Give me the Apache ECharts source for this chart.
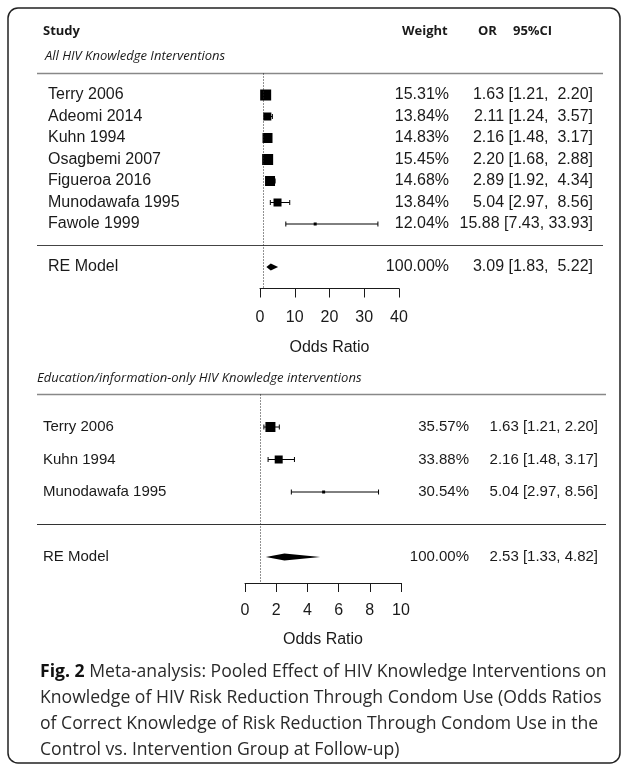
<!DOCTYPE html>
<html>
<head>
<meta charset="utf-8">
<script src="https://cdn.jsdelivr.net/npm/echarts@6/dist/echarts.min.js"></script>
<style>
html, body { margin: 0; padding: 0; background: #fff; }
#main { width: 627px; height: 767px; }
</style>
</head>
<body>
<div id="main"></div>
<script>
// panel 1: all HIV knowledge interventions
var studiesAll = ['Terry 2006', 'Adeomi 2014', 'Kuhn 1994', 'Osagbemi 2007', 'Figueroa 2016', 'Munodawafa 1995', 'Fawole 1999'];
var weightAll = ['15.31%', '13.84%', '14.83%', '15.45%', '14.68%', '13.84%', '12.04%'];
var orAll = [1.63, 2.11, 2.16, 2.20, 2.89, 5.04, 15.88];
var loAll = [1.21, 1.24, 1.48, 1.68, 1.92, 2.97, 7.43];
var hiAll = [2.20, 3.57, 3.17, 2.88, 4.34, 8.56, 33.93];
var reAll = [3.09, 1.83, 5.22]; // OR, lower, upper
var ticksAll = [0, 40, 10]; // min, max, step

// panel 2: education/information-only interventions
var studiesEdu = ['Terry 2006', 'Kuhn 1994', 'Munodawafa 1995'];
var weightEdu = ['35.57%', '33.88%', '30.54%'];
var orEdu = [1.63, 2.16, 5.04];
var loEdu = [1.21, 1.48, 2.97];
var hiEdu = [2.20, 3.17, 8.56];
var reEdu = [2.53, 1.33, 4.82];
var ticksEdu = [0, 10, 2];

var captionLines = [
    'Meta-analysis: Pooled Effect of HIV Knowledge Interventions on',
    'Knowledge of HIV Risk Reduction Through Condom Use (Odds Ratios',
    'of Correct Knowledge of Risk Reduction Through Condom Use in the',
    'Control vs. Intervention Group at Follow-up)'
];

// box sizes (px) as drawn in the picture
var boxAll = [11, 8, 10, 11, 10, 8, 3];
var boxEdu = [10, 8, 3];

var ink = '#1a1a1a';
var rFont = 'Liberation Sans';

function pad(s, n) { while (s.length < n) s = ' ' + s; return s; }
function ciLabels(or, lo, hi, re) {
    var all = or.concat([re[0]]), l = lo.concat([re[1]]), h = hi.concat([re[2]]);
    var wo = 0, wl = 0, wh = 0;
    all.forEach(function (v, i) {
        wo = Math.max(wo, v.toFixed(2).length);
        wl = Math.max(wl, l[i].toFixed(2).length);
        wh = Math.max(wh, h[i].toFixed(2).length);
    });
    return all.map(function (v, i) {
        return pad(v.toFixed(2), wo) + ' [' + pad(l[i].toFixed(2), wl) + ', ' + pad(h[i].toFixed(2), wh) + ']';
    });
}

var ciAll = ciLabels(orAll, loAll, hiAll, reAll);
var ciEdu = ciLabels(orEdu, loEdu, hiEdu, reEdu);

function rowText(list, reText, reRow) {
    return function (v) {
        if (v === reRow) return reText;
        if (v >= 0 && v < list.length && v === Math.round(v)) return list[v];
        return '';
    };
}

function yAxes(grid, min, max, names, weights, ci, reRow, size, mLeft, mW, mCI) {
    var base = {
        type: 'value', gridIndex: grid, min: min, max: max, interval: 1, inverse: true,
        axisLine: { show: false }, axisTick: { show: false }, splitLine: { show: false }
    };
    var lab = { fontFamily: rFont, fontSize: size, color: ink };
    return [
        Object.assign({}, base, { position: 'left', axisLabel: Object.assign({ align: 'left', margin: mLeft, formatter: rowText(names, 'RE Model', reRow) }, lab) }),
        Object.assign({}, base, { position: 'right', axisLabel: Object.assign({ align: 'right', margin: mW, formatter: rowText(weights, '100.00%', reRow) }, lab) }),
        Object.assign({}, base, { position: 'right', axisLabel: Object.assign({ align: 'right', margin: mCI, formatter: rowText(ci.slice(0, names.length), ci[names.length], reRow) }, lab) })
    ];
}

function xAxis(grid, t, gap, margin) {
    return {
        type: 'value', gridIndex: grid, min: t[0], max: t[1], interval: t[2], position: 'bottom',
        name: 'Odds Ratio', nameLocation: 'middle', nameGap: gap,
        nameTextStyle: { fontFamily: rFont, fontSize: 16, color: ink },
        axisLine: { show: true, onZero: false, lineStyle: { color: ink, width: 1 } },
        axisTick: { show: true, length: 9, lineStyle: { color: ink, width: 1 } },
        axisLabel: { fontFamily: rFont, fontSize: 16, color: ink, margin: margin },
        splitLine: { show: false }
    };
}

function studyItem(params, api) {
    var y = api.value(3);
    var a = api.coord([api.value(1), y]);
    var b = api.coord([api.value(2), y]);
    var c = api.coord([api.value(0), y]);
    var s = api.value(4);
    var st = { stroke: '#000', lineWidth: 1 };
    return {
        type: 'group', children: [
            { type: 'line', shape: { x1: a[0], y1: a[1], x2: b[0], y2: b[1] }, style: st },
            { type: 'line', shape: { x1: a[0], y1: a[1] - 2.5, x2: a[0], y2: a[1] + 2.5 }, style: st },
            { type: 'line', shape: { x1: b[0], y1: b[1] - 2.5, x2: b[0], y2: b[1] + 2.5 }, style: st },
            { type: 'rect', shape: { x: c[0] - s / 2, y: c[1] - s / 2, width: s, height: s }, style: { fill: '#000' } }
        ]
    };
}

function diamondItem(params, api) {
    var y = api.value(3);
    var a = api.coord([api.value(1), y]);
    var b = api.coord([api.value(2), y]);
    var c = api.coord([api.value(0), y]);
    var h = 3.5;
    return {
        type: 'polygon',
        shape: { points: [a, [c[0], c[1] - h], b, [c[0], c[1] + h]] },
        style: { fill: '#000' }
    };
}

function studyData(or, lo, hi, box) {
    return or.map(function (v, i) { return [v, lo[i], hi[i], i, box[i]]; });
}

var refLine = function (xi, yi) {
    return {
        type: 'line', xAxisIndex: xi, yAxisIndex: yi, data: [],
        markLine: {
            silent: true, symbol: 'none', label: { show: false },
            lineStyle: { type: [1, 2], color: '#222', width: 1 },
            data: [{ xAxis: 1 }]
        }
    };
};

var reRowAll = studiesAll.length + 1;
var reRowEdu = studiesEdu.length + 1;

var chart = echarts.init(document.getElementById('main'));
var option = {
    animation: false,
    backgroundColor: '#fff',
    grid: [
        { left: 260, width: 139, top: 73.5, height: 215, outerBoundsMode: 'none' },
        { left: 245, width: 156, top: 394.5, height: 188.5, outerBoundsMode: 'none' }
    ],
    xAxis: [xAxis(0, ticksAll, 51, 21), xAxis(1, ticksEdu, 49, 20)],
    yAxis: yAxes(0, -1, 9, studiesAll, weightAll, ciAll, reRowAll, 16, 212, 50, 194)
        .concat(yAxes(1, -1, 4.8, studiesEdu, weightEdu, ciEdu, reRowEdu, 15, 202, 68, 197)),
    series: [
        refLine(0, 0),
        refLine(1, 3),
        { type: 'custom', xAxisIndex: 0, yAxisIndex: 0, renderItem: studyItem, encode: { x: [0, 1, 2], y: 3 },
          data: studyData(orAll, loAll, hiAll, boxAll) },
        { type: 'custom', xAxisIndex: 0, yAxisIndex: 0, renderItem: diamondItem, encode: { x: [0, 1, 2], y: 3 },
          data: [[reAll[0], reAll[1], reAll[2], reRowAll]] },
        { type: 'custom', xAxisIndex: 1, yAxisIndex: 3, renderItem: studyItem, encode: { x: [0, 1, 2], y: 3 },
          data: studyData(orEdu, loEdu, hiEdu, boxEdu) },
        { type: 'custom', xAxisIndex: 1, yAxisIndex: 3, renderItem: diamondItem, encode: { x: [0, 1, 2], y: 3 },
          data: [[reEdu[0], reEdu[1], reEdu[2], reRowEdu]] }
    ]
};
chart.setOption(option);

// separators sit at the row above the studies and the row above RE Model
function rowY(grid, row) { return chart.convertToPixel({ gridIndex: grid }, [0, row])[1]; }
function sep(y, x1, x2, color, w) {
    return { type: 'line', silent: true, shape: { x1: x1, y1: y, x2: x2, y2: y }, style: { stroke: color, lineWidth: w } };
}
function txt(x, y, text, weight, style) {
    return {
        type: 'text', silent: true, x: x, y: y,
        style: { text: text, fill: ink, fontFamily: 'Open Sans', fontSize: 13, fontWeight: weight || 'normal', fontStyle: style || 'normal', verticalAlign: 'middle' }
    };
}

chart.setOption({
    graphic: [
        { type: 'rect', silent: true, shape: { x: 8, y: 8, width: 612, height: 755, r: 10 }, style: { fill: 'none', stroke: '#222', lineWidth: 1.5 } },
        txt(43, 31, 'Study', 'bold'),
        txt(402, 31, 'Weight', 'bold'),
        txt(478, 31, 'OR', 'bold'),
        txt(513, 31, '95%CI', 'bold'),
        txt(45, 56, 'All HIV Knowledge Interventions', 'normal', 'italic'),
        txt(37, 378, 'Education/information-only HIV Knowledge interventions', 'normal', 'italic'),
        sep(rowY(0, -1), 37, 603, '#888', 1.5),
        sep(rowY(0, reRowAll - 1), 37, 603, '#444', 1.2),
        sep(rowY(1, -1), 37, 606, '#888', 1.5),
        sep(rowY(1, reRowEdu - 1), 37, 606, '#333', 1.2),
        {
            type: 'text', silent: true, x: 40, y: 659,
            style: {
                text: '{b|Fig. 2} ' + captionLines.join('\n'),
                fill: '#2a2a2a', fontFamily: 'Open Sans', fontSize: 17.6, lineHeight: 26,
                rich: { b: { fontFamily: 'Open Sans', fontWeight: 'bold', fontSize: 17.6, fill: '#111', lineHeight: 26 } }
            }
        }
    ]
});
</script>
</body>
</html>
